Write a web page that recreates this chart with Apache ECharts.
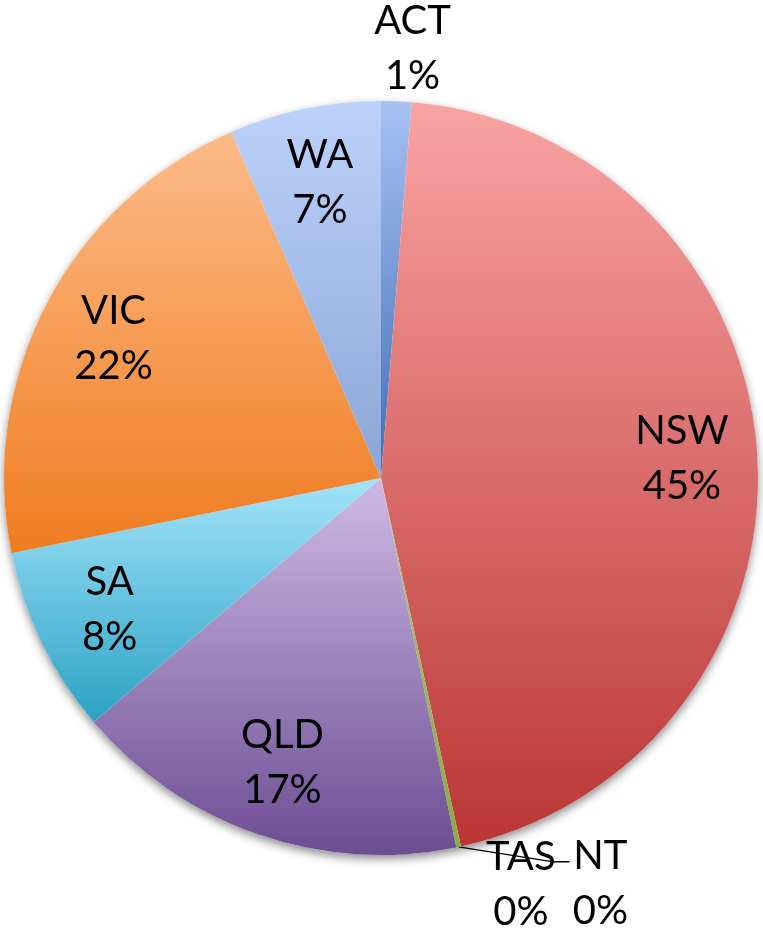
<!DOCTYPE html>
<html>
<head>
<meta charset="utf-8">
<script src="https://cdn.jsdelivr.net/npm/echarts@6/dist/echarts.min.js"></script>
<style>
html,body{margin:0;padding:0;background:#fff;}
#chart{width:763px;height:930px;}
</style>
</head>
<body>
<div id="chart"></div>
<script>
// Data (percent share by state)
var states = ['ACT', 'NSW', 'NT', 'TAS', 'QLD', 'SA', 'VIC', 'WA'];
var shares = [1.3, 45.3, 0.2, 0.0, 17.0, 8.0, 21.7, 6.5];

// Styling
var gradients = {
  ACT: ['#a8c1f2', '#3f6db5'],
  NSW: ['#f9a3a3', '#b93634'],
  NT:  ['#a9c86a', '#8aac45'],
  TAS: ['#fbb57f', '#ee7a1f'],
  QLD: ['#cdbbe4', '#6c4d93'],
  SA:  ['#a3e3fa', '#2ba2c3'],
  VIC: ['#fcbb88', '#ef7c20'],
  WA:  ['#bcd2fb', '#8aa5d6']
};
var CX = 381, CY = 478, R = 377;
// label placement: [radius factor, dx, dy]
var labelPlace = {
  ACT: [1.14, 14, 0],
  NT:  [1.1, 134, 0],
  TAS: [1.1, 57, 0]
};

var total = shares.reduce(function (a, b) { return a + b; }, 0);
var midAngles = [];
(function () {
  var acc = 0;
  for (var i = 0; i < shares.length; i++) {
    midAngles.push((acc + shares[i] / 2) / total * Math.PI * 2);
    acc += shares[i];
  }
})();

var data = states.map(function (s, i) {
  var g = gradients[s];
  var item = {
    name: s,
    value: shares[i],
    itemStyle: {
      color: {
        type: 'linear', x: 0, y: 0, x2: 0, y2: 1,
        colorStops: [{ offset: 0, color: g[0] }, { offset: 1, color: g[1] }]
      }
    }
  };
  if (labelPlace[s]) {
    item.label = { position: 'outside' };
    item.labelLine = { show: s === 'NT', lineStyle: { color: '#000', width: 1.4 } };
  }
  return item;
});

var chart = echarts.init(document.getElementById('chart'), null, { renderer: 'canvas' });
chart.setOption({
  backgroundColor: '#ffffff',
  animation: false,
  series: [
    {
      type: 'pie',
      silent: true,
      z: 1,
      center: [CX, CY],
      radius: R,
      label: { show: false },
      labelLine: { show: false },
      itemStyle: {
        color: '#ffffff',
        shadowBlur: 10,
        shadowColor: 'rgba(0,0,0,0.45)',
        shadowOffsetX: 0,
        shadowOffsetY: 4
      },
      data: [{ name: '', value: 1 }]
    },
    {
      type: 'pie',
      z: 2,
      center: [CX, CY],
      radius: R,
      startAngle: 90,
      clockwise: true,
      avoidLabelOverlap: false,
      stillShowZeroSum: true,
      itemStyle: { borderWidth: 0 },
      label: {
        show: true,
        position: 'inside',
        color: '#000',
        fontFamily: 'Lato, "Open Sans", sans-serif',
        fontSize: 40,
        lineHeight: 55,
        formatter: function (p) {
          return p.name + '\n' + Math.round(p.value) + '%';
        }
      },
      labelLayout: function (p) {
        var s = states[p.dataIndex];
        var pl = labelPlace[s] || [0.8, 0, 0];
        var a = midAngles[p.dataIndex];
        var x = CX + pl[0] * R * Math.sin(a) + pl[1];
        var y = CY - pl[0] * R * Math.cos(a) + pl[2];
        var out = { x: x, y: y, align: 'center', verticalAlign: 'middle' };
        if (s === 'NT') {
          var ex = CX + R * Math.sin(a), ey = CY - R * Math.cos(a);
          out.labelLinePoints = [[ex, ey], [x - 47, y - 22], [x - 31, y - 22]];
        }
        return out;
      },
      data: data
    }
  ]
});
</script>
</body>
</html>
